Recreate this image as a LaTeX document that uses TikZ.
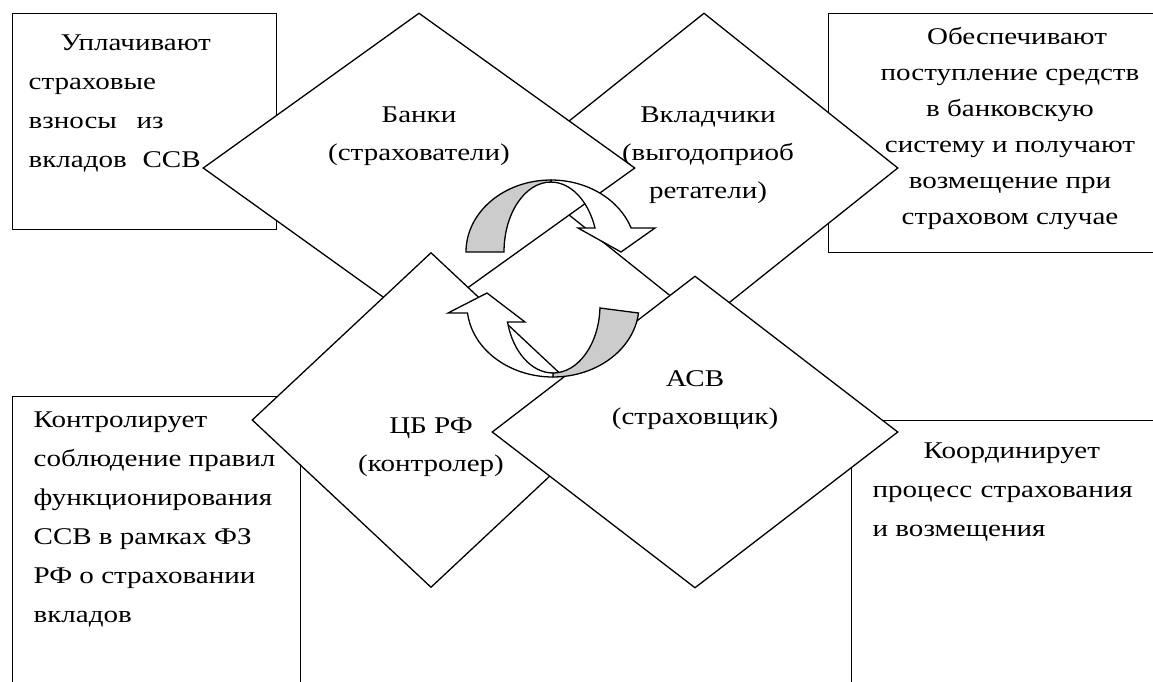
\documentclass[tikz,border=0pt]{standalone}
\usepackage{fontspec}
\setmainfont{Liberation Serif}[FakeStretch=1.21]
\usetikzlibrary{positioning}
\usetikzlibrary{shapes.geometric}
\definecolor{tailgray}{gray}{0.8}

\begin{document}
\begin{tikzpicture}[x=1pt,y=-1pt,line width=1.3pt,
		block/.style={draw,fill=white,inner sep=0pt,anchor=north west},
		romb/.style={draw,fill=white,shape=diamond,inner sep=0pt},
		txt/.style={inner sep=0pt,font=\fontsize{24}{39}\selectfont},
		tail/.style={draw,fill=tailgray},
		head/.style={draw,fill=white}]
	\useasboundingbox (0,0) rectangle (1153,681);
	\node[block,minimum width=264pt,minimum height=216pt] (platyat) at (12,13) {};
	\node[block,minimum width=340pt,minimum height=239pt] (obespech) at (828,13) {};
	\node[block,minimum width=288pt,minimum height=300pt] (kontrol) at (12,396) {};
	\node[block,minimum width=320pt,minimum height=280pt] (koord) at (851,420) {};
	\node[romb,minimum width=388pt,minimum height=310pt] (vkladchiki) at (704,168) {};
	\node[romb,minimum width=432pt,minimum height=310pt] (banki) at (419,168) {};
	\node[romb,minimum width=358pt,minimum height=335pt] (cb) at (431,420) {};
	\node[romb,minimum width=406pt,minimum height=312pt] (asv) at (695,432) {};
	\draw[head] (551,180) arc[start angle=270,end angle=340.5,x radius=85,y radius=72]
		-- (655,228) -- (621,252) -- (578,228) -- (595,228)
		arc[start angle=339.9,end angle=270,x radius=47,y radius=70] -- cycle;
	\draw[tail] (466,252) arc[start angle=180,end angle=270,x radius=85,y radius=72]
		-- (551,182) arc[start angle=270,end angle=180,x radius=47,y radius=70] -- cycle;
	\draw[tail] (600,308) -- (638.5,313) arc[start angle=6.4,end angle=90,x radius=86,y radius=72]
		-- (553,373) arc[start angle=90,end angle=2.5,x radius=47,y radius=68] -- cycle;
	\draw[head] (553,377) arc[start angle=90,end angle=173.6,x radius=86,y radius=72]
		-- (448,313) -- (487,293) -- (525,322) -- (507.5,322)
		arc[start angle=165.5,end angle=90,x radius=47,y radius=68] -- cycle;
	\node[txt,anchor=north west,align=left] (platyat-txt) at (28,34) {\hspace*{32pt}Уплачивают\\страховые\\\makebox[135pt][s]{взносы из}\\\makebox[172pt][s]{вкладов ССВ}};
	\node[txt,anchor=north,align=center,font=\fontsize{24}{36}\selectfont] (obespech-txt) at (1010,27) {\hspace*{14pt}Обеспечивают\\поступление средств\\в банковскую\\систему и получают\\возмещение при\\страховом случае};
	\node[txt,anchor=north west,align=left] (kontrol-txt) at (33,411) {Контролирует\\соблюдение правил\\функционирования\\ССВ в рамках ФЗ\\РФ о страховании\\вкладов};
	\node[txt,anchor=north west,align=left] (koord-txt) at (872,442) {\hspace*{51pt}Координирует\\\makebox[260pt][s]{процесс страхования}\\и возмещения};
	\node[txt,anchor=north,align=center,font=\fontsize{24}{38}\selectfont] (banki-txt) at (419,106) {Банки\\(страхователи)};
	\node[txt,anchor=north,align=center,font=\fontsize{24}{38}\selectfont] (vkladchiki-txt) at (708,106) {Вкладчики\\(выгодоприоб\\ретатели)};
	\node[txt,anchor=north,align=center,font=\fontsize{24}{38}\selectfont] (cb-txt) at (431,417) {ЦБ РФ\\(контролер)};
	\node[txt,anchor=north,align=center,font=\fontsize{24}{38}\selectfont] (asv-txt) at (695,370) {АСВ\\(страховщик)};
\end{tikzpicture}
\end{document}
